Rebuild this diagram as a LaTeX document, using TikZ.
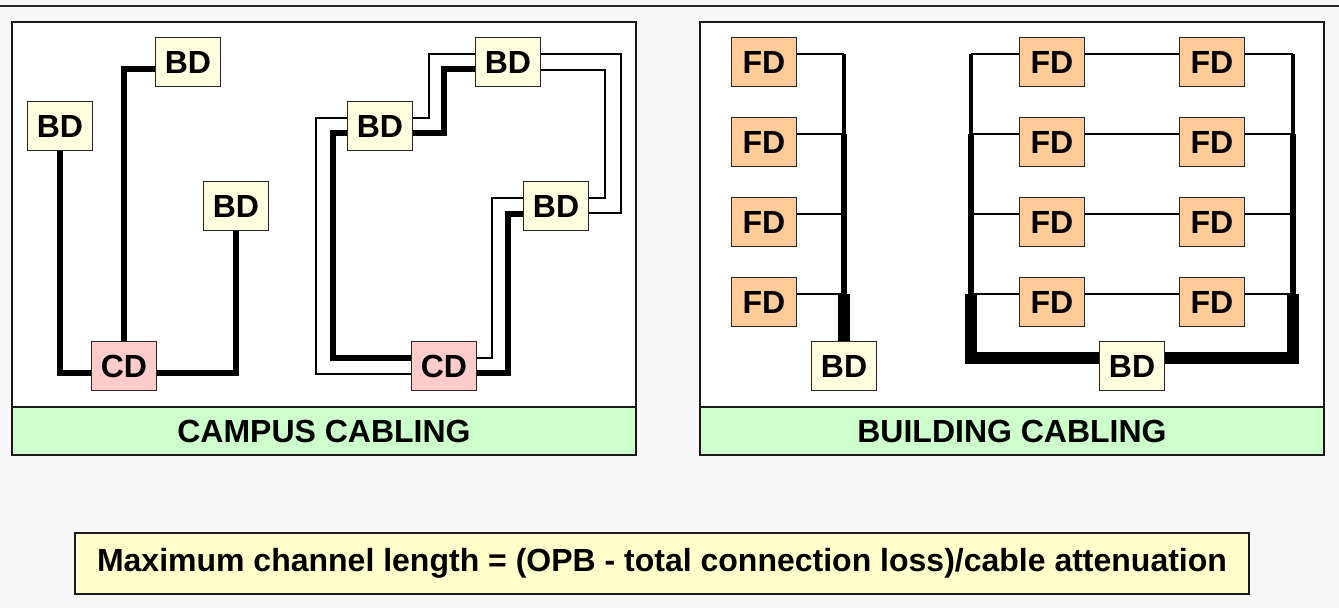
\documentclass[tikz,border=0pt]{standalone}
\usepackage{fontspec}
\setmainfont{Liberation Sans}
\definecolor{bggray}{HTML}{F7F7F7}
\definecolor{bdyellow}{HTML}{FFFFE0}
\definecolor{cdpink}{HTML}{FFCCCC}
\definecolor{fdorange}{HTML}{FFCC99}
\definecolor{bargreen}{HTML}{CCFFCC}
\definecolor{notecolor}{HTML}{FFFFCC}

\begin{document}
\begin{tikzpicture}[
      x=0.75pt, y=-0.75pt,
      box/.style={rectangle, draw=black!85, line width=1pt, minimum width=48.5pt, minimum height=36.5pt, inner sep=0pt, font=\fontsize{24}{26}\selectfont\bfseries},
      bd/.style={box, fill=bdyellow},
      cd/.style={box, fill=cdpink},
      fd/.style={box, fill=fdorange},
      panel/.style={draw=black!90, line width=1.5pt, fill=white},
      bar/.style={draw=black!90, line width=1.5pt, fill=bargreen},
      bartext/.style={font=\fontsize{24}{26}\selectfont\bfseries},
      cable/.style={line width=3.8pt},
      loop/.style={line width=1.1pt},
      feed/.style={line width=2.2pt},
      riser1/.style={line width=2.6pt},
      riser2/.style={line width=4.2pt},
      riser3/.style={line width=5.2pt},
      riser4/.style={line width=8.5pt}
    ]
      \useasboundingbox (0,0) rectangle (1339,608);
      \fill[bggray] (0,0) rectangle (1339,608);
      \draw[line width=1.5pt, black!85] (0,6) -- (1339,6);

      % Campus panel
      \draw[panel] (12,22) rectangle (636,455);
      \draw[bar] (12,407) rectangle (636,455);
      \node[bartext] (campus) at (324,431) {CAMPUS CABLING};

      % Star topology
      \node[bd] (bdA) at (188,62) {BD};
      \node[bd] (bdB) at (60,126) {BD};
      \node[bd] (bdC) at (236,206) {BD};
      \node[cd] (cdA) at (124,366) {CD};

      \draw[cable] (bdB.south) |- ([yshift=-5.25pt]cdA.west);
      \draw[cable] ([yshift=-5.25pt]bdA.west) -| (cdA.north);
      \draw[cable] (bdC.south) |- ([yshift=-5.25pt]cdA.east);

      % Ring topology
      \node[bd] (bdD) at (508,62) {BD};
      \node[bd] (bdE) at (380,126) {BD};
      \node[bd] (bdF) at (556,206) {BD};
      \node[cd] (cdB) at (444,366) {CD};

      \draw[cable] ([yshift=-5.25pt]bdE.east) -- ++(31,0) |- ([yshift=-5.25pt]bdD.west);
      \draw[cable] ([yshift=-5.25pt]bdE.west) -- ++(-14,0) |- ([yshift=6pt]cdB.west);
      \draw[cable] ([yshift=-5.25pt]cdB.east) -- ++(31,0) |- ([yshift=-6pt]bdF.west);

      \draw[loop] ([yshift=6pt]bdE.east) -- ++(16,0) |- ([yshift=6pt]bdD.west);
      \draw[loop] ([yshift=6pt]bdD.east) -- ++(80,0) |- ([yshift=-5.25pt]bdF.east);
      \draw[loop] ([yshift=-6pt]bdD.east) -- ++(64,0) |- ([yshift=6pt]bdF.east);
      \draw[loop] ([yshift=6pt]bdE.west) -- ++(-31,0) |- ([yshift=-6pt]cdB.west);
      \draw[loop] ([yshift=6pt]cdB.east) -- ++(15,0) |- ([yshift=6pt]bdF.west);

      % Building panel
      \draw[panel] (700,22) rectangle (1324,455);
      \draw[bar] (700,407) rectangle (1324,455);
      \node[bartext] (building) at (1012,431) {BUILDING CABLING};

      % Single riser
      \node[bd] (bdG) at (844,366) {BD};
      \foreach \i/\y in {1/62,2/142,3/222,4/302} {
        \node[fd] (fd\i) at (764,\y) {FD};
        \draw[feed] ([yshift=6pt]fd\i.east) -- ++(47,0) coordinate (j\i);
      }
      \draw[riser1] (j1) -- (j2);
      \draw[riser2] (j2) -- (j3);
      \draw[riser3] (j3) -- (j4);
      \draw[riser4] (j4) -- (bdG.north);

      % Double riser
      \node[bd] (bdH) at (1132,366) {BD};
      \foreach \i/\y in {1/62,2/142,3/222,4/302} {
        \node[fd] (fa\i) at (1052,\y) {FD};
        \node[fd] (fb\i) at (1212,\y) {FD};
        \draw[feed] ([yshift=6pt]fa\i.west) -- ++(-48,0) coordinate (la\i);
        \draw[loop] ([yshift=6pt]fa\i.east) -- ([yshift=6pt]fb\i.west);
        \draw[feed] ([yshift=6pt]fb\i.east) -- ++(48,0) coordinate (rb\i);
      }
      \draw[riser1] (la1) -- (la2);
      \draw[riser2] (la2) -- (la3);
      \draw[riser3] (la3) -- (la4);
      \draw[riser4] (la4) |- ([yshift=6pt]bdH.west);
      \draw[riser1] (rb1) -- (rb2);
      \draw[riser2] (rb2) -- (rb3);
      \draw[riser3] (rb3) -- (rb4);
      \draw[riser4] (rb4) |- ([yshift=6pt]bdH.east);

      % Formula
      \node[draw=black!90, line width=1.5pt, fill=notecolor, minimum width=880pt, minimum height=45.5pt, inner sep=0pt, font=\fontsize{24}{28}\selectfont\bfseries] (olen) at (662,563.5) {Maximum channel length = (OPB - total connection loss)/cable attenuation};
    \end{tikzpicture}
\end{document}
